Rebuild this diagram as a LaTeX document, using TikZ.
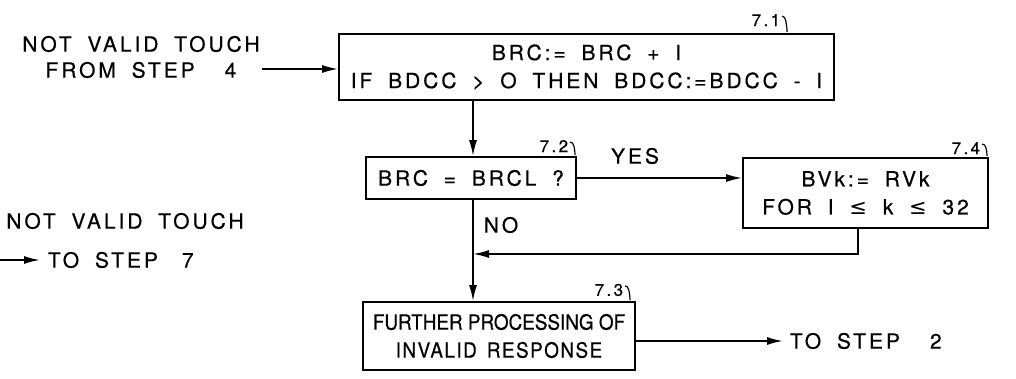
\documentclass[tikz,border=0pt]{standalone}
\usepackage{fontspec}
\setmainfont{TeX Gyre Heros}[LetterSpace=14,WordSpace=1.8,FakeBold=0.5]
\newfontfamily\narrowfont{TeX Gyre Heros}[FakeStretch=0.9,FakeBold=0.5]
\newfontfamily\midfont{TeX Gyre Heros}[FakeStretch=0.9,LetterSpace=7,WordSpace=1.5,FakeBold=0.5]
\newfontfamily\symfont{DejaVu Sans}
\usetikzlibrary{arrows.meta,calc}
\newcommand\leader[2]{\draw[lead] ([shift={(1,3)}]#1.north east) .. controls +(4,-1) and +(0,-5) .. ($(#1.east |- #2.north)+(6,-1)$);}
\begin{document}
\begin{tikzpicture}[x=1pt,y=-1pt,line width=1.8pt,
  box/.style={draw,line width=1.8pt,align=center,inner sep=0pt,font=\fontsize{21}{28}\selectfont},
  txt/.style={align=center,inner sep=0pt,font=\fontsize{21}{26}\selectfont},
  lbl/.style={inner sep=0pt,font=\fontsize{17}{17}\selectfont},
  lead/.style={line width=1.2pt},
  arr/.style={-{Latex[length=16pt,width=8pt]},line width=1.8pt}]
\useasboundingbox (0,0) rectangle (1016,379);
% boxes
\node[box,minimum width=495pt,minimum height=66pt] (b71) at (586.5,67) {BRC:= BRC + I\\IF BDCC > O THEN BDCC:=BDCC - I};
\node[box,minimum width=210pt,minimum height=42pt] (b72) at (471,178) {BRC = BRCL ?};
\node[box,minimum width=245pt,minimum height=70pt] (b74) at (865.5,193) {BVk:= RVk\\FOR I {\symfont ≤} k {\symfont ≤} 32};
\node[box,minimum width=272pt,minimum height=68pt] (b73) at (499,336) {{\narrowfont FURTHER PROCESSING OF}\\{\midfont INVALID RESPONSE}};
% labels
\node[lbl,anchor=south east] (l71) at (781,27) {7.1};
\node[lbl,anchor=south east] (l72) at (569,153) {7.2};
\node[lbl,anchor=south east] (l74) at (981,155) {7.4};
\node[lbl,anchor=south east] (l73) at (624,297) {7.3};
\leader{l71}{b71}
\leader{l72}{b72}
\leader{l74}{b74}
\leader{l73}{b73}
% texts
\node[txt] (src) at (141,57) {NOT VALID TOUCH\\FROM STEP\hspace{30pt}4};
\node[txt] (nv) at (125,221) {NOT VALID TOUCH};
\node[txt,anchor=west] (ts7) at (47,260) {TO STEP\hspace{24pt}7};
\node[txt,anchor=west] (dst) at (789,341) {TO STEP\hspace{30pt}2};
\node[txt] (yes) at (635,156) {YES};
\node[txt] (no) at (501,225) {NO};
% connectors
\coordinate (a1) at (262,69);
\coordinate (vx) at (473,0);
\coordinate (rx) at (858,254);
\coordinate (a7) at (0,260);
\draw[arr] (a1) -- (a1 -| b71.west);
\draw[arr] (b71.south -| vx) -- (b72.north -| vx);
\draw[arr] (b72.south -| vx) -- (b73.north -| vx);
\draw[arr] (b72.east) -- (b72.east -| b74.west);
\draw[arr] (b74.south -| rx) -- (rx) -- (rx -| vx);
\draw[arr] (b73.east |- dst.west) -- ([xshift=-6pt]dst.west);
\draw[arr] (a7) -- ([xshift=-7pt]ts7.west);
\end{tikzpicture}
\end{document}
